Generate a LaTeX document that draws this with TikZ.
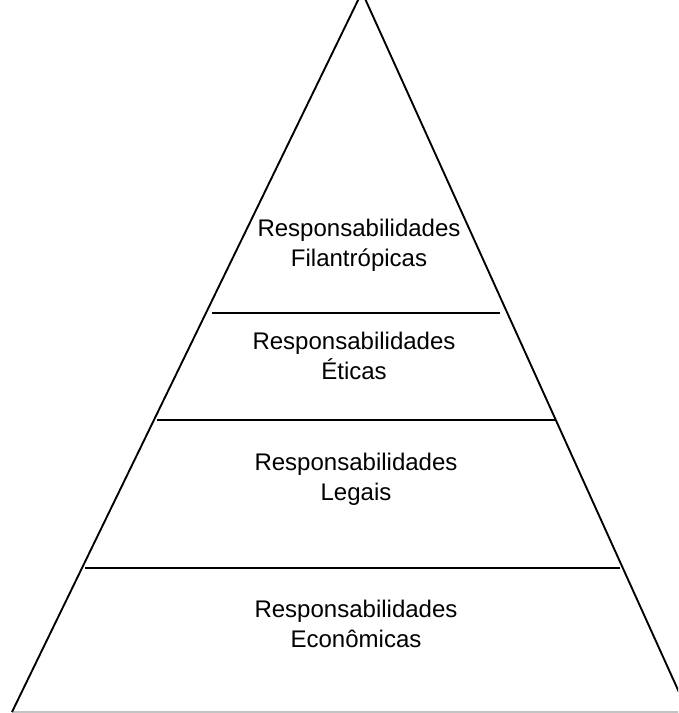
\documentclass[tikz,border=0pt]{standalone}
\usepackage{fontspec}
\setmainfont{Liberation Sans}
\definecolor{basegray}{RGB}{195,195,195}
\tikzset{
	tier/.style={draw, line width=1.6pt},
	tiertext/.style={align=center, font=\fontsize{20.5}{25.6}\selectfont}
}

\begin{document}
\begin{tikzpicture}[x=0.03cm, y=-0.03cm]
	\useasboundingbox (0,0) rectangle (678,713);
	\clip (0,0) rectangle (678,713);

	\coordinate (apex)  at (362,-8);
	\coordinate (left)  at (12,712);
	\coordinate (right) at (688,712);

	\coordinate (a1) at (212,313);
	\coordinate (b1) at (500,313);
	\coordinate (a2) at (157,420);
	\coordinate (b2) at (555,420);
	\coordinate (a3) at (85,568);
	\coordinate (b3) at (620,568);

	\draw[basegray, line width=1.2pt] (left) -- (right);
	\draw[tier, line join=miter] (left) -- (apex) -- (right);

	\draw[tier] (a1) -- (b1);
	\draw[tier] (a2) -- (b2);
	\draw[tier] (a3) -- (b3);

	\node[tiertext] (filantropicas) at (359,245)
		{Responsabilidades\\Filantrópicas};
	\node[tiertext] (eticas)        at (354,356)
		{Responsabilidades\\Éticas};
	\node[tiertext] (legais)        at (356,479)
		{Responsabilidades\\Legais};
	\node[tiertext] (economicas)    at (356,624)
		{Responsabilidades\\Econômicas};
\end{tikzpicture}
\end{document}
